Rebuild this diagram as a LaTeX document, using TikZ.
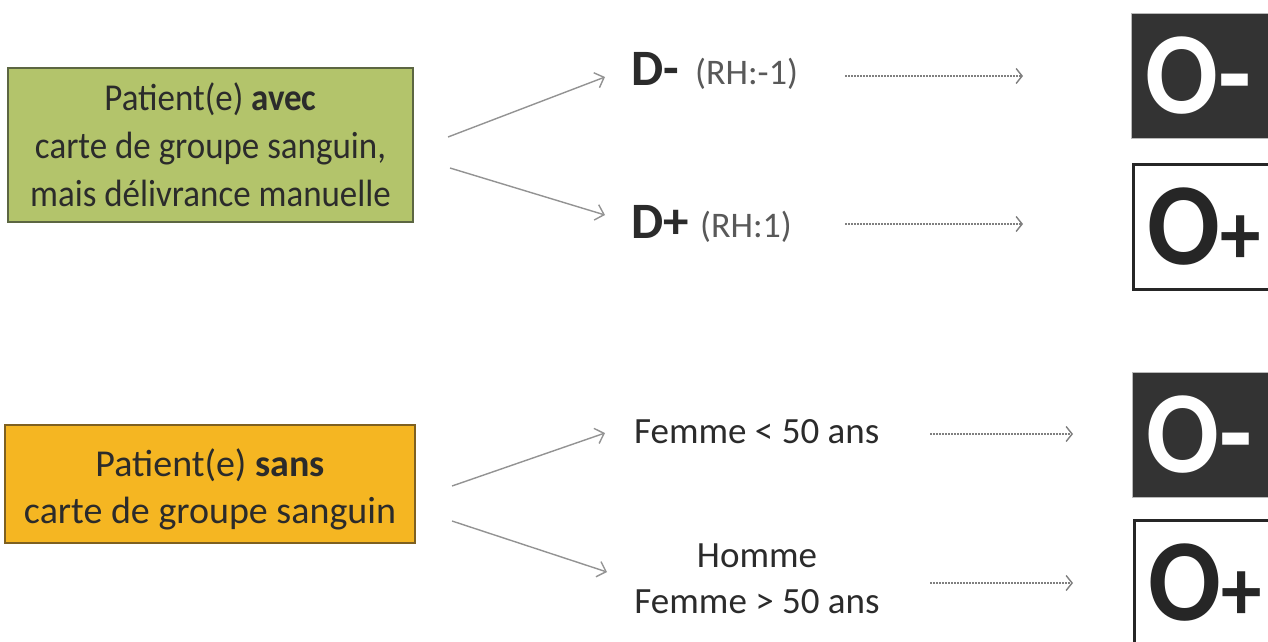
\documentclass[tikz,border=0pt]{standalone}
\usepackage{fontspec}
\setmainfont{Carlito}
\newfontfamily\narrowfont{Carlito}[FakeStretch=0.92]
\usetikzlibrary{arrows.meta}
\definecolor{greenfill}{HTML}{B3C46B}
\definecolor{greenline}{HTML}{5C6642}
\definecolor{orangefill}{HTML}{F5B622}
\definecolor{orangeline}{HTML}{7E6020}
\definecolor{darkfill}{HTML}{333333}
\definecolor{txt}{HTML}{2B2B2B}
\newcommand{\smallplus}{{\fontsize{88}{88}\selectfont +}}
\tikzset{
  greenbox/.style={rectangle, fill=greenfill, draw=greenline, line width=2pt,
    minimum width=405pt, minimum height=154pt, inner sep=0pt, align=center,
    text=txt, font=\narrowfont\fontsize{38}{48}\selectfont},
  orangebox/.style={rectangle, fill=orangefill, draw=orangeline, line width=2pt,
    minimum width=410pt, minimum height=118pt, inner sep=0pt, align=center,
    text=txt, font=\fontsize{38}{47}\selectfont},
  dtext/.style={inner sep=0pt, text=txt, font=\bfseries\fontsize{51}{51}\selectfont},
  rhtext/.style={inner sep=0pt, text=black!65, font=\fontsize{36}{36}\selectfont},
  midtext/.style={inner sep=0pt, text=txt, font=\fontsize{37}{37}\selectfont},
  negbox/.style={rectangle, fill=darkfill, draw=gray!55, line width=1pt,
    minimum height=125pt, text width=112pt, inner xsep=14pt, inner ysep=0pt,
    align=left, text=white, font=\narrowfont\bfseries\fontsize{117}{117}\selectfont},
  posbox/.style={rectangle, fill=white, draw=black!85, line width=2.5pt,
    minimum height=125pt, text width=112pt, inner xsep=14pt, inner ysep=0pt,
    align=left, text=black!85, font=\narrowfont\bfseries\fontsize{117}{117}\selectfont},
  garrow/.style={draw=gray!85, line width=1.4pt,
    -{Straight Barb[length=8pt,width=16pt,line width=1.4pt]}},
  dotarrow/.style={draw=black!50, line width=2.4pt, dash pattern=on 2pt off 1pt,
    -{Straight Barb[length=6pt,width=15pt,line width=1.4pt]}}
}
\begin{document}
\begin{tikzpicture}[x=1pt,y=-1pt]
\useasboundingbox (0,0) rectangle (1268,641);
\clip (0,0) rectangle (1268,641);
\fill[white] (0,0) rectangle (1268,641);

% left boxes
\node[greenbox] (avec) at (210.5,145) {Patient(e) \textbf{avec}\\carte de groupe sanguin,\\mais délivrance manuelle};
\node[orangebox] (sans) at (210,484) {\rule{0pt}{38pt}Patient(e) \textbf{sans}\\carte de groupe sanguin};

% middle texts
\node[dtext, anchor=base west] (dminus) at (631,85) {D-};
\node[rhtext, anchor=base west] (rhm) at (695,84) {(RH:-1)};
\node[dtext, anchor=base west] (dplus) at (631,238) {D+};
\node[rhtext, anchor=base west] (rhp) at (700,237) {(RH:1)};
\node[midtext, anchor=base west] (fless) at (634,443) {Femme < 50 ans};
\node[midtext, anchor=base] (homme) at (757,567) {Homme};
\node[midtext, anchor=base] (fmore) at (757,613) {Femme > 50 ans};

% result boxes
\node[negbox, anchor=north west] (om1) at (1131,13) {O-};
\node[posbox, anchor=north west] (op1) at (1132,163) {O\smallplus};
\node[negbox, anchor=north west] (om2) at (1132,372) {O-};
\node[posbox, anchor=north west] (op2) at (1133,519) {O\smallplus};

% connector ends
\coordinate (ga) at (448,137);  \coordinate (gae) at (605,77);
\coordinate (gb) at (450,168);  \coordinate (gbe) at (605,215);
\coordinate (oa) at (452,486);  \coordinate (oae) at (605,433);
\coordinate (ob) at (452,521);  \coordinate (obe) at (607,572);
\coordinate (d1) at (845,76);   \coordinate (d1e) at (1023,76);
\coordinate (d2) at (845,224);  \coordinate (d2e) at (1023,224);
\coordinate (d3) at (930,434);  \coordinate (d3e) at (1073,434);
\coordinate (d4) at (930,583);  \coordinate (d4e) at (1073,583);

\draw[garrow] (ga) -- (gae);
\draw[garrow] (gb) -- (gbe);
\draw[garrow] (oa) -- (oae);
\draw[garrow] (ob) -- (obe);
\draw[dotarrow] (d1) -- (d1e);
\draw[dotarrow] (d2) -- (d2e);
\draw[dotarrow] (d3) -- (d3e);
\draw[dotarrow] (d4) -- (d4e);
\end{tikzpicture}
\end{document}
